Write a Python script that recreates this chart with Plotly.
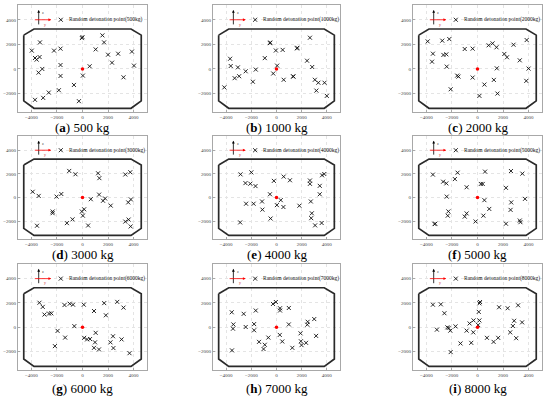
import plotly.graph_objects as go

W, H = 550, 397

panel_letters = ["a", "b", "c", "d", "e", "f", "g", "h", "i"]
masses = [500, 1000, 2000, 3000, 4000, 5000, 6000, 7000, 8000]

x_500 = [1560, 1690, -3970, -3330, -2230, -1720, 1030, 2000, 2790, 3870, -3720, -3590, -3360, 2310, -1720,
         4030, -3150, 560, -3440, -1720, 30, 3210, -670, -1850, -2640, -3080, -3720, -280, -50, 0]
y_500 = [2730, 2160, 1490, 2160, 1490, 1650, 1590, 1160, 1240, 1410, 890, 760, 970, 510, 320,
         270, 0, 220, -300, -570, -540, -680, -1300, -1730, -1920, -2350, -2510, -2620, 2510, 2590]

x_1000 = [2660, -520, -500, 1630, 1650, -50, 490, -930, -3690, 2430, -3640, -3070, 2840, -2450, -1650,
          50, -260, -3330, -2970, 570, 1320, 1340, -1880, 3050, 3330, 3820, 3170, 4000, -4150]
y_1000 = [2540, 2100, 2150, 1670, 1720, 1500, 1550, 880, 830, 670, 240, 130, 160, -190, -50,
          270, -370, -750, -590, -880, -600, -620, -1040, -880, -1120, -1120, -1760, -2190, -1500]

x_2000 = [-3900, -2760, -2210, -3490, -2670, -2440, -3560, -2410, -1000, -380, 870, 1180, 1490, 2100, 2310,
          2820, 3850, 3310, 1510, 4000, -1590, -1490, -380, 1280, 540, 3820, -2100, 1560, 150]
y_2000 = [2240, 2300, 2430, 1240, 1140, 1190, 590, 190, 1620, 1650, 1920, 2080, 1760, 1220, 950,
          1970, 2350, 700, 50, 30, -540, -620, -700, -890, -1270, -970, -1650, -2000, -2190]

x_3000 = [-1040, -550, 1220, 1320, 3350, 3740, -3900, -3430, -2030, -1660, 650, 1300, 1610, 1770, 2210,
          3790, 3580, -2340, -2340, -50, 130, 30, -780, -1220, 440, -3560, 3350, 3610, 3770]
y_3000 = [2250, 1970, 2050, 1640, 1950, 2140, 490, 140, 80, 300, -140, 250, -270, -80, -680,
          -160, -410, -1180, -1320, -1180, -990, -1530, -1840, -2160, -2360, -2380, -2030, -1860, -2440]

x_4000 = [-2860, -2000, -2470, -2080, -1670, -210, 570, 1070, 2660, 2660, 3440, 3620, 3800, 3440, -520,
          340, 2730, 30, 550, -1150, -1820, -2420, -1120, 1820, 2810, 2760, -470, 3070, 3590, -2890]
y_4000 = [1960, 2130, 1220, 1170, 970, 1410, 1770, 1460, 1440, 1160, 990, 1880, 1990, 280, 280,
          -220, -330, -640, -800, -330, -520, -520, -1020, -690, -1330, -1740, -1770, -2350, -2150, -2100]

x_5000 = [-3490, -1560, 590, 2620, 3510, -1770, -2690, -2440, 260, 410, -850, 2230, -2410, 540, 3720,
          2640, 920, 2590, -2280, -2330, -850, -1000, 460, -150, -3310, -3360, 2230, 3310, 3360]
y_5000 = [1940, 2100, 2190, 2240, 2020, 1560, 1340, 1200, 1150, 1150, 870, 820, 80, -220, -110,
          -410, -960, -1040, -1170, -1530, -1340, -1610, -1530, -2020, -2210, -2240, -2210, -1940, -2080]

x_6000 = [-3370, -3110, -2980, -2620, -2440, -1410, -1000, -740, 100, 900, 1700, 1830, 2720, 3210, -640,
          -1950, -1360, -2160, 130, 360, 590, 1030, 980, 900, 1290, 2190, 2390, 2420, 3060, 3680]
y_6000 = [2020, 1680, 1050, 1130, 1150, 1830, 1940, 1860, 1860, 1340, 1990, 990, 2090, 1620, 100,
          -290, -840, -1540, -860, -990, -960, -450, -1230, -1680, -1810, -1230, -730, -1700, -990, -2120]

x_7000 = [-3560, -2610, -1650, -280, -50, 280, 280, 980, -3430, -3460, -2450, -1780, -1780, 980, 2480,
          2450, 3000, 260, 460, 3150, 1910, 1940, 1990, 2350, 1260, -650, -1390, -930, -1030, -3540]
y_7000 = [1240, 1110, 1380, 1920, 2080, 1570, 1380, 1590, 240, -110, 30, 270, -240, 240, 460,
          220, 680, -620, -1160, -700, -490, -1140, -1460, -1270, -1680, -840, -1190, -1430, -1780, -1890]

x_8000 = [-3490, -2870, -2590, -3180, -2360, -2260, -2130, -1720, -850, -620, -310, -330, 100, 150, 200,
          150, 50, -1330, -490, -2100, 740, 1260, 1620, 1690, 2360, 3180, 2870, 2770, 2560, 3490, 3030]
y_8000 = [1860, 1890, 1160, -190, 0, -50, -270, 80, -270, 320, 570, -410, 1270, 1970, 2080,
          570, 190, -1320, -1270, -2030, -860, -1190, -860, 1650, 1570, 1810, 540, 110, -410, 410, -890]

panel_x = [x_500, x_1000, x_2000, x_3000, x_4000, x_5000, x_6000, x_7000, x_8000]
panel_y = [y_500, y_1000, y_2000, y_3000, y_4000, y_5000, y_6000, y_7000, y_8000]

boundary_x = [-4600, -3800, 3800, 4600, 4600, 3800, -3800, -4600, -4600]
boundary_y = [2750, 3250, 3250, 2750, -2600, -3200, -3200, -2600, 2750]
origin_x = [0]
origin_y = [0]
legend_x = [-1700]
legend_y = [4000]

x_ticks = [-4000, -2000, 0, 2000, 4000]
y_ticks = [-2000, 0, 2000, 4000]
x_range = [-5050, 5050]
y_range = [-3500, 5200]

col_px = [(18, 147), (213, 340), (413, 542)]
row_px = [(5, 112), (136, 239), (264, 370)]
caption_y_px = [127, 254, 388]

serif = "Liberation Serif, Times New Roman, serif"

fig = go.Figure()
layout = dict(
    width=W, height=H, margin=dict(l=0, r=0, t=0, b=0),
    paper_bgcolor="white", plot_bgcolor="white", showlegend=False,
)
annotations = []

for i in range(9):
    r, c = divmod(i, 3)
    n = i + 1
    xa = "x" if n == 1 else f"x{n}"
    ya = "y" if n == 1 else f"y{n}"
    xkey = "xaxis" if n == 1 else f"xaxis{n}"
    ykey = "yaxis" if n == 1 else f"yaxis{n}"
    x0, x1 = col_px[c]
    y0, y1 = row_px[r]
    axis_common = dict(
        showline=True, mirror=True, linecolor="#a8a8a8", linewidth=1,
        showgrid=True, gridcolor="#e4e4e4", griddash="dot", gridwidth=0.5,
        zeroline=False, ticks="inside", ticklen=2, tickcolor="#a8a8a8",
        tickfont=dict(size=5, color="#444", family=serif),
    )
    layout[xkey] = dict(domain=[x0 / W, x1 / W], range=x_range, tickvals=x_ticks,
                        anchor=ya, **axis_common)
    layout[ykey] = dict(domain=[1 - y1 / H, 1 - y0 / H], range=y_range, tickvals=y_ticks,
                        anchor=xa, **axis_common)

    fig.add_trace(go.Scatter(x=boundary_x, y=boundary_y, mode="lines",
                             line=dict(color="#2a2a2a", width=1.7), xaxis=xa, yaxis=ya,
                             hoverinfo="skip"))
    fig.add_trace(go.Scatter(x=panel_x[i], y=panel_y[i], mode="markers",
                             marker=dict(symbol="x-thin", size=4, line=dict(color="#111", width=0.9)),
                             xaxis=xa, yaxis=ya))
    fig.add_trace(go.Scatter(x=origin_x, y=origin_y, mode="markers",
                             marker=dict(symbol="circle", size=3.5, color="red"),
                             xaxis=xa, yaxis=ya))
    fig.add_trace(go.Scatter(x=legend_x, y=legend_y, mode="markers",
                             marker=dict(symbol="x-thin", size=4, line=dict(color="#111", width=0.9)),
                             xaxis=xa, yaxis=ya))
    annotations.append(dict(x=-1250, y=4000, xref=xa, yref=ya, xanchor="left", yanchor="middle",
                            text=f"Random detonation point({masses[i]}kg)", showarrow=False,
                            font=dict(size=5.5, color="#111", family=serif)))
    # axis icon
    annotations.append(dict(x=-3430, y=4800, ax=-3430, ay=3500, xref=xa, yref=ya, axref=xa, ayref=ya,
                            showarrow=True, arrowhead=2, arrowsize=0.7, arrowwidth=0.8,
                            arrowcolor="black", text=""))
    annotations.append(dict(x=-2450, y=4000, ax=-3850, ay=4000, xref=xa, yref=ya, axref=xa, ayref=ya,
                            showarrow=True, arrowhead=2, arrowsize=0.7, arrowwidth=0.8,
                            arrowcolor="red", text=""))
    annotations.append(dict(x=-3100, y=4600, xref=xa, yref=ya, text="z", showarrow=False,
                            font=dict(size=4, color="#333", family=serif)))
    annotations.append(dict(x=-2900, y=3650, xref=xa, yref=ya, text="y", showarrow=False,
                            font=dict(size=4, color="#c33", family=serif)))
    # caption
    annotations.append(dict(x=(x0 + x1) / 2 / W, y=1 - caption_y_px[r] / H, xref="paper", yref="paper",
                            xanchor="center", yanchor="middle", showarrow=False,
                            text=f"(<b>{panel_letters[i]}</b>) {masses[i]} kg",
                            font=dict(size=13, color="black", family=serif)))

layout["annotations"] = annotations
fig.update_layout(**layout)
fig.write_html("out.html", config={"displayModeBar": False},
               post_script="document.body.style.margin='0px';document.body.style.padding='0px';")
